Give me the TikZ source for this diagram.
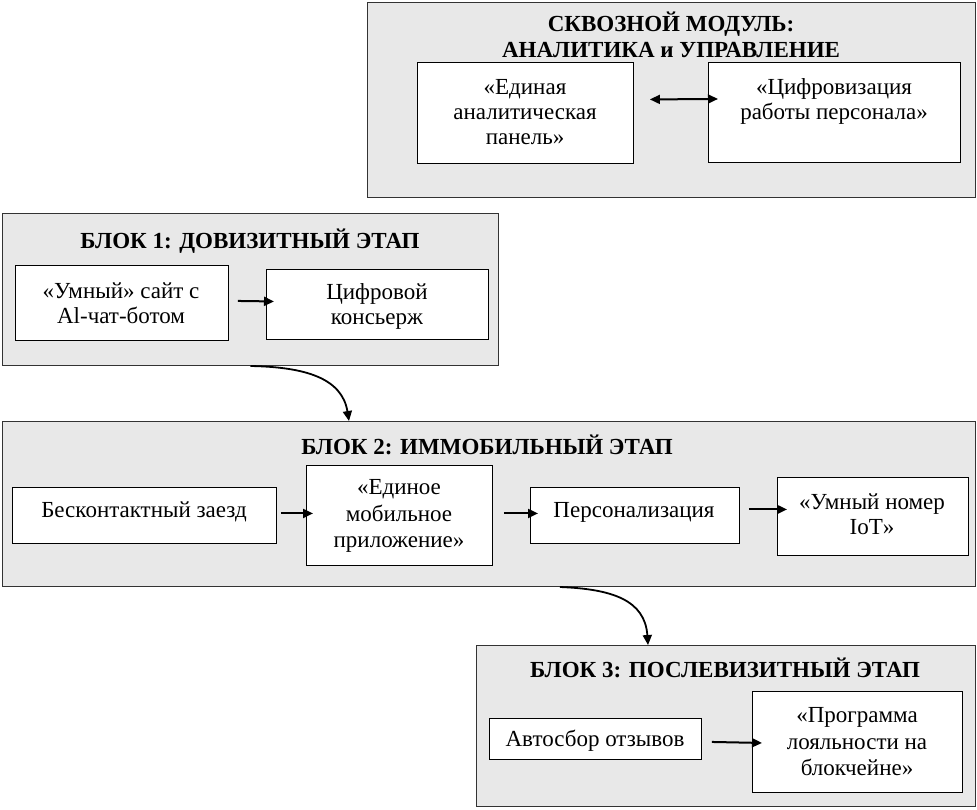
\documentclass[tikz,border=0pt]{standalone}
\usepackage{fontspec}
\setmainfont{Liberation Serif}
\usetikzlibrary{arrows.meta,calc}
\begin{document}
\begin{tikzpicture}[x=1pt,y=-1pt,
  panel/.style={draw=black!80,fill=black!9,line width=1pt,anchor=north west,inner sep=0pt},
  box/.style={draw=black,fill=white,line width=0.9pt,anchor=north west,inner sep=0pt},
  txt/.style={align=center,inner sep=0pt,font=\fontsize{23}{25}\selectfont},
  txtw/.style={align=center,inner sep=0pt,font=\fontsize{23}{26.5}\selectfont},
  ttl/.style={align=center,inner sep=0pt,font=\fontsize{23}{26}\selectfont\bfseries},
  arr/.style={line width=2pt,-{Triangle[length=10pt,width=9pt]}},
  darr/.style={line width=2pt,{Triangle[length=10pt,width=9pt]}-{Triangle[length=10pt,width=9pt]}}]
\useasboundingbox (0,0) rectangle (977,809);
% top module
\node[panel,minimum width=608,minimum height=195] (m) at (367,2) {};
\node[box,minimum width=216,minimum height=101] (m1) at (417,62) {};
\node[box,minimum width=252,minimum height=100] (m2) at (708,62) {};
\node[ttl] (mt) at (671,34.5) {СКВОЗНОЙ МОДУЛЬ:\\АНАЛИТИКА и УПРАВЛЕНИЕ};
\node[txt] (m1t) at (525,112) {«Единая\\аналитическая\\панель»};
\node[txt] (m2t) at (834,101) {«Цифровизация\\работы персонала»};
\draw[darr] ($(m1.east)+(16,-13.5)$) -- ($(m2.west)+(10,-13.5)$);
% block 1
\node[panel,minimum width=496,minimum height=152] (b1) at (2,213) {};
\node[ttl] (b1t) at (250,241) {БЛОК 1: ДОВИЗИТНЫЙ ЭТАП};
\node[box,minimum width=213,minimum height=75] (b11) at (15,265) {};
\node[txt] (b11t) at (121,303) {«Умный» сайт с\\Al-чат-ботом};
\node[box,minimum width=222,minimum height=70] (b12) at (266,269) {};
\node[txt] (b12t) at (377,306) {Цифровой\\консьерж};
\draw[arr] ($(b11.east)+(9,-2)$) -- ($(b12.west)+(8,-3)$);
% block 2
\node[panel,minimum width=973,minimum height=165] (b2) at (2,421) {};
\node[ttl] (b2t) at (487,445) {БЛОК 2: ИММОБИЛЬНЫЙ ЭТАП};
\node[box,minimum width=264,minimum height=56] (b21) at (12,487) {};
\node[txt] (b21t) at (144,512) {Бесконтактный заезд};
\node[box,minimum width=186,minimum height=100] (b22) at (306,465) {};
\node[txtw] (b22t) at (399,516) {«Единое\\мобильное\\приложение»};
\node[box,minimum width=209,minimum height=56] (b23) at (530,487) {};
\node[txt] (b23t) at (634,512) {Персонализация};
\node[box,minimum width=191,minimum height=78] (b24) at (777,477) {};
\node[txt] (b24t) at (872,514) {«Умный номер\\IoT»};
\draw[arr] ($(b21.east)+(4,-2)$) -- ($(b22.west)+(7,-2)$);
\draw[arr] ($(b22.east)+(11,-2)$) -- ($(b23.west)+(8,-2)$);
\draw[arr] ($(b23.east)+(9,-6)$) -- ($(b24.west)+(10,-7)$);
% block 3
\node[panel,minimum width=499,minimum height=161] (b3) at (476,645) {};
\node[ttl] (b3t) at (725,668) {БЛОК 3: ПОСЛЕВИЗИТНЫЙ ЭТАП};
\node[box,minimum width=212,minimum height=41] (b31) at (489,718) {};
\node[txt] (b31t) at (595,741) {Автосбор отзывов};
\node[box,minimum width=210,minimum height=101] (b32) at (752,691) {};
\node[txtw] (b32t) at (857,742) {«Программа\\лояльности на\\блокчейне»};
\draw[arr] ($(b31.east)+(10,3)$) -- ($(b32.west)+(10,1)$);
% curved connectors
\coordinate (c1) at (b2.north -| 349,0);
\coordinate (c2) at (b3.north -| 648,0);
\draw[arr,line width=1.8pt] (b1.south) .. controls (305,367) and (342,378) .. (c1);
\draw[arr,line width=1.8pt] (b2.south -| 560,0) .. controls (612,589) and (645,600) .. (c2);
\end{tikzpicture}
\end{document}
